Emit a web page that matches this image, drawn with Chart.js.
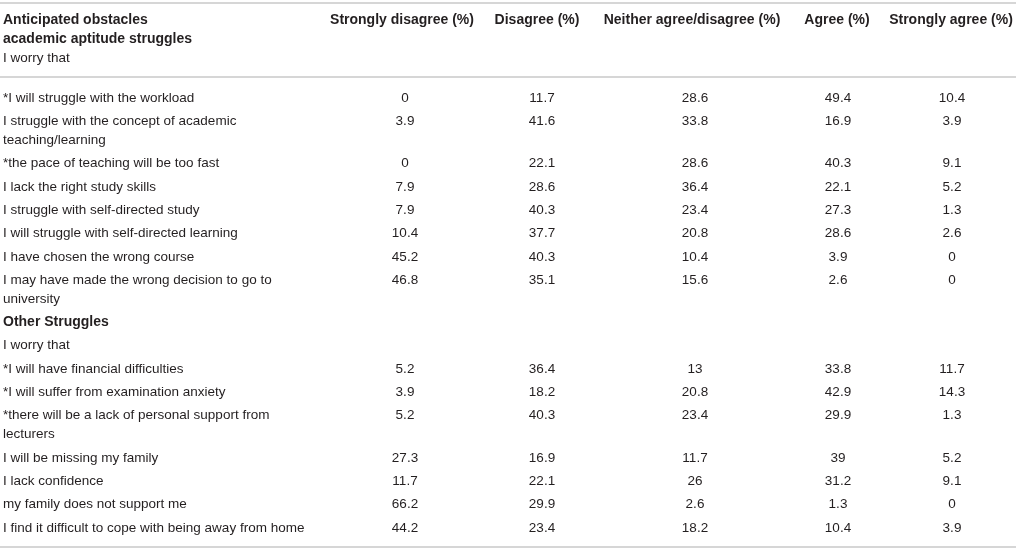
<!DOCTYPE html>
<html>
<head>
<meta charset="utf-8">
<script src="https://cdn.jsdelivr.net/npm/chart.js@4/dist/chart.umd.min.js"></script>
<style>
body{margin:0;background:#fff}
#wrap{width:1016px;height:551px;position:relative}
</style>
</head>
<body>
<div id="wrap"><canvas id="tbl"></canvas></div>
<script>
// table content
const titleLines = ['Anticipated obstacles', 'academic aptitude struggles'];
const introLine = 'I worry that';
const columns = ['Strongly disagree (%)', 'Disagree (%)', 'Neither agree/disagree (%)', 'Agree (%)', 'Strongly agree (%)'];
const rowLabels = [
  ['*I will struggle with the workload'],
  ['I struggle with the concept of academic', 'teaching/learning'],
  ['*the pace of teaching will be too fast'],
  ['I lack the right study skills'],
  ['I struggle with self-directed study'],
  ['I will struggle with self-directed learning'],
  ['I have chosen the wrong course'],
  ['I may have made the wrong decision to go to', 'university'],
  ['Other Struggles'],
  ['I worry that'],
  ['*I will have financial difficulties'],
  ['*I will suffer from examination anxiety'],
  ['*there will be a lack of personal support from', 'lecturers'],
  ['I will be missing my family'],
  ['I lack confidence'],
  ['my family does not support me'],
  ['I find it difficult to cope with being away from home']
];
const boldRows = [8];
const stronglyDisagree = [0, 3.9, 0, 7.9, 7.9, 10.4, 45.2, 46.8, null, null, 5.2, 3.9, 5.2, 27.3, 11.7, 66.2, 44.2];
const disagree         = [11.7, 41.6, 22.1, 28.6, 40.3, 37.7, 40.3, 35.1, null, null, 36.4, 18.2, 40.3, 16.9, 22.1, 29.9, 23.4];
const neither          = [28.6, 33.8, 28.6, 36.4, 23.4, 20.8, 10.4, 15.6, null, null, 13, 20.8, 23.4, 11.7, 26, 2.6, 18.2];
const agree            = [49.4, 16.9, 40.3, 22.1, 27.3, 28.6, 3.9, 2.6, null, null, 33.8, 42.9, 29.9, 39, 31.2, 1.3, 10.4];
const stronglyAgree    = [10.4, 3.9, 9.1, 5.2, 1.3, 2.6, 0, 0, null, null, 11.7, 14.3, 1.3, 5.2, 9.1, 0, 3.9];
const seriesValues = [stronglyDisagree, disagree, neither, agree, stronglyAgree];

// layout (pixel units of the scales)
const colX = [405, 542, 695, 838, 952];
const headX = [402, 537, 692, 837, 951];
const labelX = 3;
const headerY = [20.5, 39.5, 58.5];
const ruleY = [3, 77, 547];
const rowTop = 98, rowStep = 23.3, wrapStep = 19;
const regFont = '13.5px "Liberation Sans", Arial, sans-serif';
const boldFont = 'bold 14px "Liberation Sans", Arial, sans-serif';
const textColor = '#231f20';

let rowY = [];
let yy = rowTop;
rowLabels.forEach(lines => {
  rowY.push(yy);
  yy += rowStep + (lines.length - 1) * wrapStep;
});

const datasets = columns.map((name, j) => ({
  label: name,
  data: seriesValues[j].map((v, i) => v == null ? null : {x: colX[j], y: rowY[i], v: v}).filter(p => p),
  pointRadius: 0,
  showLine: false
}));

const tablePlugin = {
  id: 'tableText',
  afterDatasetsDraw(chart) {
    const ctx = chart.ctx;
    const xs = chart.scales.x, ys = chart.scales.y;
    ctx.save();
    // rules
    ctx.strokeStyle = '#c8c8c8';
    ctx.lineWidth = 1.6;
    ruleY.forEach(r => {
      const py = ys.getPixelForValue(r);
      ctx.beginPath();
      ctx.moveTo(xs.getPixelForValue(0), py);
      ctx.lineTo(xs.getPixelForValue(1016), py);
      ctx.stroke();
    });
    ctx.fillStyle = textColor;
    ctx.textBaseline = 'middle';
    // header
    ctx.font = boldFont;
    ctx.textAlign = 'left';
    titleLines.forEach((t, k) => ctx.fillText(t, xs.getPixelForValue(labelX), ys.getPixelForValue(headerY[k])));
    ctx.textAlign = 'center';
    columns.forEach((c, j) => ctx.fillText(c, xs.getPixelForValue(headX[j]), ys.getPixelForValue(headerY[0])));
    ctx.font = regFont;
    ctx.textAlign = 'left';
    ctx.fillText(introLine, xs.getPixelForValue(labelX), ys.getPixelForValue(headerY[2]));
    // row labels
    rowLabels.forEach((lines, i) => {
      ctx.font = boldRows.includes(i) ? boldFont : regFont;
      lines.forEach((l, k) => {
        ctx.fillText(l, xs.getPixelForValue(labelX), ys.getPixelForValue(rowY[i] + k * wrapStep));
      });
    });
    // cell values
    ctx.font = regFont;
    ctx.textAlign = 'center';
    chart.data.datasets.forEach((ds, j) => {
      const meta = chart.getDatasetMeta(j);
      meta.data.forEach((el, k) => {
        ctx.fillText(String(ds.data[k].v), el.x, el.y);
      });
    });
    ctx.restore();
  }
};

new Chart('tbl', {
  type: 'scatter',
  data: {datasets: datasets},
  options: {
    responsive: true,
    maintainAspectRatio: false,
    animation: false,
    events: [],
    layout: {padding: 0},
    plugins: {legend: {display: false}, tooltip: {enabled: false}},
    scales: {
      x: {type: 'linear', min: 0, max: 1016, display: false},
      y: {type: 'linear', min: 0, max: 551, reverse: true, display: false}
    }
  },
  plugins: [tablePlugin]
});
</script>
</body>
</html>
